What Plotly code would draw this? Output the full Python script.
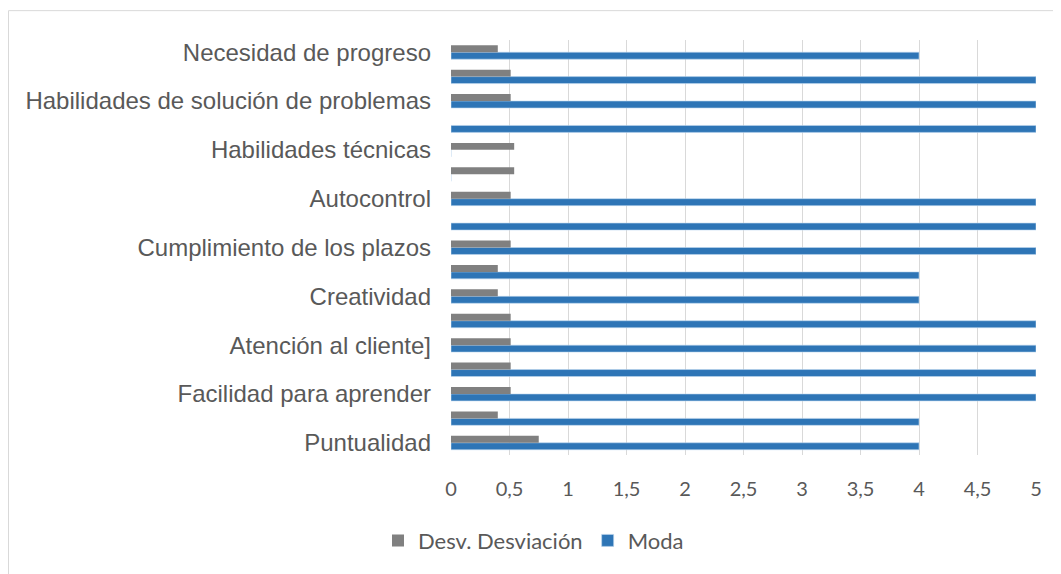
import plotly.graph_objects as go

# Categories from bottom to top (labels that the original chart skips are left blank)
categories = [
    "Puntualidad", "", "Facilidad para aprender", "", "Atención al cliente]", "",
    "Creatividad", "", "Cumplimiento de los plazos", "", "Autocontrol", "",
    "Habilidades técnicas", "", "Habilidades de solución de problemas", "",
    "Necesidad de progreso",
]
desv = [0.75, 0.40, 0.51, 0.51, 0.51, 0.51, 0.40, 0.40, 0.51, 0.0, 0.51, 0.54,
        0.54, 0.0, 0.51, 0.51, 0.40]
moda = [4, 4, 5, 5, 5, 5, 4, 4, 5, 5, 5, 0, 0, 5, 5, 5, 4]
x_ticks = [0, 0.5, 1, 1.5, 2, 2.5, 3, 3.5, 4, 4.5, 5]
x_ticktext = [str(v).replace(".", ",") for v in x_ticks]

# page has an 8px body margin; figure coordinates are page coordinates minus 8
OFF = 8
W, H = 1061 - OFF, 574 - OFF
L, R, T, B = 451 - OFF, 1036 - OFF, 40 - OFF, 457 - OFF

idx = list(range(len(categories)))

fig = go.Figure()
fig.add_trace(go.Bar(
    y=idx, x=moda, orientation="h", name="Moda",
    marker=dict(color="#2E75B6", line=dict(color="#BDD7EE", width=0.6)),
    legendrank=2,
))
fig.add_trace(go.Bar(
    y=idx, x=desv, orientation="h", name="Desv. Desviación",
    marker=dict(color="#808080", line=dict(width=0)),
    legendrank=1,
))

def px_x(p):
    return (p - L) / (R - L)

def px_y(p):
    return (B - p) / (B - T)

fig.update_layout(
    width=W, height=H,
    margin=dict(l=L, r=W - R, t=T, b=H - B),
    paper_bgcolor="white", plot_bgcolor="white",
    barmode="group", bargap=0.43, bargroupgap=0,
    showlegend=True,
    legend=dict(
        orientation="h", x=px_x(370), xanchor="left", y=px_y(543 - OFF), yanchor="middle",
        font=dict(family="Lato, Liberation Sans", size=22, color="#595959"),
        itemwidth=30, traceorder="normal",
    ),
    xaxis=dict(
        range=[0, 5], tickvals=x_ticks, ticktext=x_ticktext,
        showgrid=True, gridcolor="#D9D9D9", gridwidth=1,
        zeroline=False, showline=False, ticks="",
        ticklabelstandoff=20,
        tickfont=dict(family="Lato, Liberation Sans", size=20, color="#595959"),
        fixedrange=True,
    ),
    yaxis=dict(
        range=[-0.5, len(categories) - 0.5],
        tickvals=[i for i, c in enumerate(categories) if c],
        ticktext=[c for c in categories if c],
        showgrid=False, zeroline=False, showline=False, ticks="",
        ticklabelstandoff=19,
        tickfont=dict(family="Liberation Sans, Arial", size=24, color="#595959"),
        fixedrange=True,
    ),
    shapes=[dict(
        type="rect", xref="paper", yref="paper",
        x0=px_x(0.5), x1=px_x(W + 5), y0=px_y(H + 5), y1=px_y(10.5 - OFF),
        line=dict(color="#D9D9D9", width=1), fillcolor="rgba(0,0,0,0)", layer="below",
    )],
)

fig.write_html("out.html")
